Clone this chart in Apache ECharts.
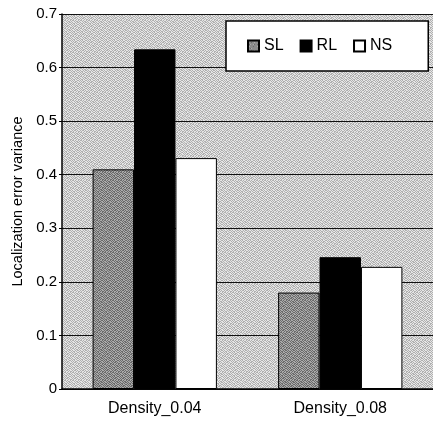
<!DOCTYPE html>
<html>
<head>
<meta charset="utf-8">
<script src="https://cdn.jsdelivr.net/npm/echarts@6/dist/echarts.min.js"></script>
<style>
html,body{margin:0;padding:0;background:#fff;}
#chart{width:433px;height:421px;}
</style>
</head>
<body>
<div id="chart"></div>
<script>
const categories = ['Density_0.04', 'Density_0.08'];
const seriesNames = ['SL', 'RL', 'NS'];
const slValues = [0.41, 0.18];
const rlValues = [0.634, 0.246];
const nsValues = [0.431, 0.228];
const yTicks = [0, 0.1, 0.2, 0.3, 0.4, 0.5, 0.6, 0.7];

// small fixed halftone-like tile (styling only)
const tileMask = [
  '10100110',
  '01011001',
  '10110100',
  '01001011',
  '11010010',
  '00101101',
  '10010110',
  '01101001'
];
function makePattern(light, dark) {
  const c = document.createElement('canvas');
  c.width = 8; c.height = 8;
  const ctx = c.getContext('2d');
  for (let y = 0; y < 8; y++) {
    for (let x = 0; x < 8; x++) {
      ctx.fillStyle = tileMask[y][x] === '1' ? dark : light;
      ctx.fillRect(x, y, 1, 1);
    }
  }
  return { image: c, repeat: 'repeat' };
}
const bgPattern = makePattern('#e6e6e6', '#b0b0b0');
const slPattern = makePattern('#aaaaaa', '#6a6a6a');

const chart = echarts.init(document.getElementById('chart'));
const font = 'Liberation Sans, Arial, sans-serif';
chart.setOption({
  animation: false,
  backgroundColor: '#ffffff',
  grid: {
    left: 62, top: 14, width: 375, height: 375,
    show: true, backgroundColor: bgPattern, borderWidth: 0
  },
  legend: {
    data: seriesNames,
    left: 226, top: 21,
    icon: 'rect', itemWidth: 11, itemHeight: 11, itemGap: 16,
    backgroundColor: '#ffffff', borderColor: '#000', borderWidth: 1.5,
    padding: [17, 36, 17, 21],
    textStyle: { fontFamily: font, fontSize: 16, color: '#000' }
  },
  xAxis: {
    type: 'category', data: categories,
    axisLine: { lineStyle: { color: '#000', width: 1.5 } },
    axisTick: { show: false },
    axisLabel: { fontFamily: font, fontSize: 16, color: '#000', margin: 12 }
  },
  yAxis: {
    type: 'value', min: yTicks[0], max: yTicks[yTicks.length - 1], interval: 0.1,
    name: 'Localization error variance', nameLocation: 'middle', nameGap: 36,
    nameTextStyle: { fontFamily: font, fontSize: 14.5, color: '#000' },
    axisLine: { show: true, lineStyle: { color: '#000', width: 1.5 } },
    axisTick: { show: true, length: 3, lineStyle: { color: '#000' } },
    axisLabel: { fontFamily: font, fontSize: 15, color: '#000', margin: 5,
      formatter: v => String(Math.round(v * 10) / 10) },
    splitLine: { show: true, lineStyle: { color: '#111', width: 1 } }
  },
  series: [
    { name: 'SL', type: 'bar', data: slValues, barGap: '0%', barCategoryGap: '33%',
      itemStyle: { color: slPattern, borderColor: '#000', borderWidth: 1 } },
    { name: 'RL', type: 'bar', data: rlValues,
      itemStyle: { color: '#000', borderColor: '#000', borderWidth: 1 } },
    { name: 'NS', type: 'bar', data: nsValues,
      itemStyle: { color: '#fff', borderColor: '#000', borderWidth: 1 } }
  ]
});
</script>
</body>
</html>
